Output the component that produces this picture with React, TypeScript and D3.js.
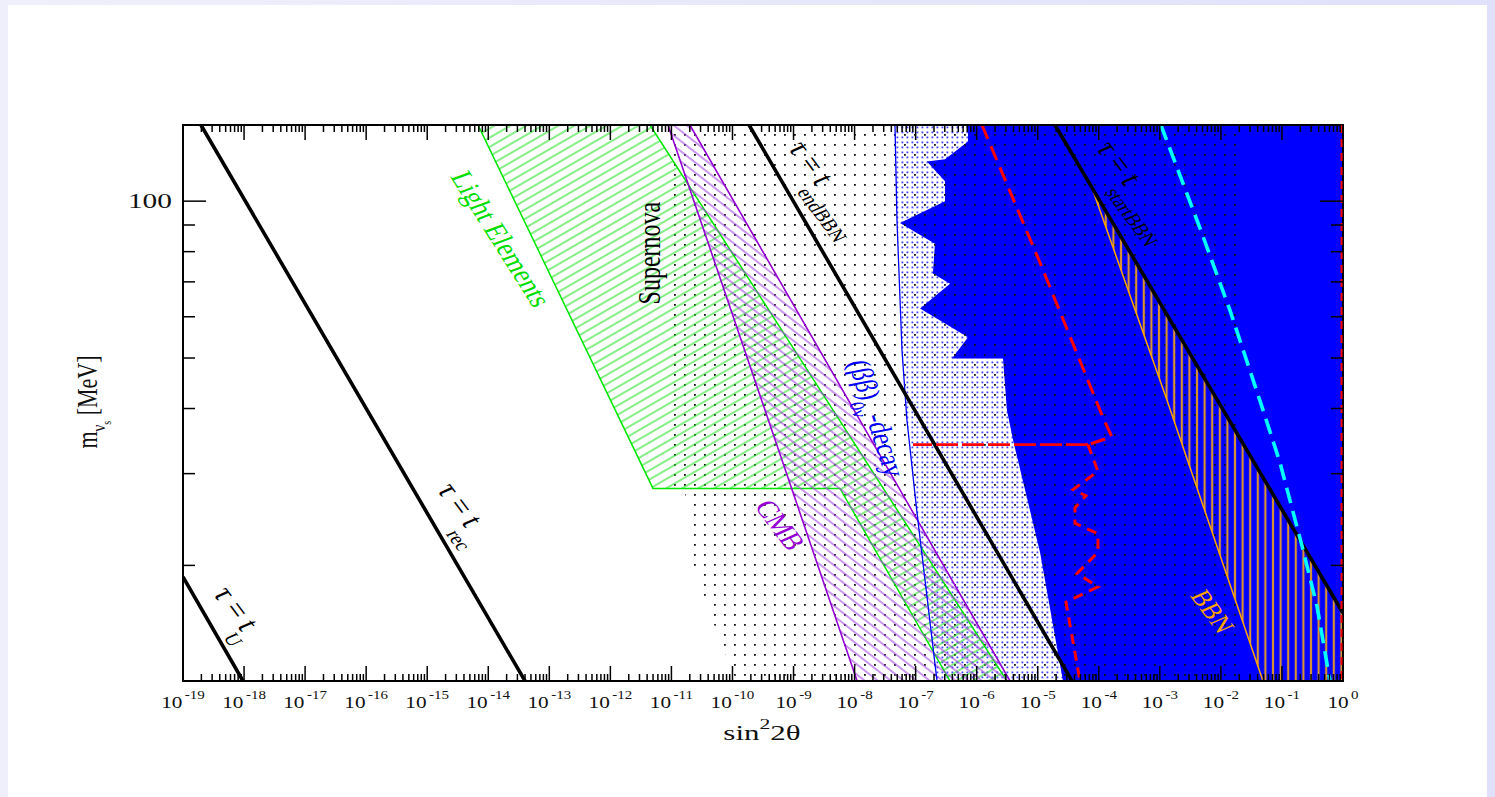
import React, { useEffect, useRef } from 'react';
import * as d3 from 'd3';

const W = 1495;
const H = 797;
const margin = { left: 183, right: 152, top: 125, bottom: 116 };

// x: sin^2(2θ), y: sterile neutrino mass in MeV
const xDomain = [1e-19, 1];
const yDomain = [12, 140];
const xTickPowers = [-19, -18, -17, -16, -15, -14, -13, -12, -11, -10, -9, -8, -7, -6, -5, -4, -3, -2, -1, 0];
const minorSteps = [2, 3, 4, 5, 6, 7, 8, 9];
const yMinorTicks = [20, 30, 40, 50, 60, 70, 80, 90];
const yMajorTicks = [100];

// lifetime lines tau = t_X, points are [sin^2 2θ, m]
const tauU = [[1e-19, 19.0], [9.6e-19, 12]];
const tauRec = [[1.97e-19, 140], [4.0e-14, 12]];
const tauEndBBN = [[1.87e-10, 140], [3.64e-5, 12]];
const tauStartBBN = [[1.92e-5, 140], [1, 16.2]];

// excluded / constrained regions
const lightElements = [[6.8e-15, 140], [4.46e-12, 140], [3.13e-6, 12], [3.66e-7, 12], [5.77e-9, 28.1], [4.99e-12, 28.1]];
const cmbBand = [[8.8e-12, 140], [2.01e-11, 140], [3.52e-6, 12], [1.1e-8, 12]];
const supernova = [[9.5e-12, 140], [1.84e-2, 140], [1.84e-2, 12], [1.1e-10, 12], [9.1e-11, 12.85], [3.83e-11, 16.7], [2.01e-11, 20.8], [1.67e-11, 27.7], [9.5e-12, 28.2]];
const doubleBetaEdge = [[4.59e-8, 140], [4.95e-8, 91.6], [5.98e-8, 51.7], [7.21e-8, 38.0], [1.05e-7, 25.3], [2.24e-7, 12]];
const blueEdge = [[7.21e-7, 140], [7.21e-7, 130.2], [3.03e-7, 120.3], [1.53e-7, 119.2], [3.03e-7, 109.2], [3.03e-7, 100], [5.55e-8, 90.8], [2.07e-7, 82.8], [1.92e-7, 72.6], [3.66e-7, 69.4], [1.18e-7, 62.2], [7.21e-7, 54.8], [3.94e-7, 49.9], [2.7e-6, 49.9], [3.13e-6, 39.7], [3.94e-6, 34.8], [1.09e-5, 21.2], [2.59e-5, 12]];
const bbnRegion = [[8.04e-5, 104.7], [1, 16.2], [1, 12], [4.89e-2, 12], [1.31e-3, 41.5]];

// dashed curves
const redUpper = [[1.22e-6, 140], [1.09e-5, 76.2], [1.22e-4, 38.0], [1.64e-4, 35.3], [1.13e-4, 34.8], [6.65e-5, 34.1]];
const redFlat = [[6.65e-5, 34.1], [9.06e-8, 34.1]];
const redLower = [[6.65e-5, 34.1], [9.7e-5, 30.3], [3.78e-5, 27.96], [6.17e-5, 27.2], [4.07e-5, 25.8], [4.07e-5, 24.1], [9.7e-5, 23.0], [9.7e-5, 21.2], [4.4e-5, 19.3], [9.7e-5, 18.2], [2.9e-5, 17.0], [4.92e-5, 12]];
const redEdge = [[1, 140], [1, 12]];
const cyanCurve = [[1.04e-3, 140], [4.54e-3, 88.8], [1.41e-2, 61.7], [4.71e-2, 40.3], [9.29e-2, 31.5], [0.213, 21.8], [0.375, 16.7], [0.612, 12]];

const serif = '"Liberation Serif", "Times New Roman", serif';
const STRETCH = 1.3;

// labels: anchor in data coords
const labels = [
  { at: [2.99e-19, 17.7], angle: 60, color: '#000', size: 26, anchor: 'start', parts: [['τ = t'], ['U', 17, -3, 15]] },
  { at: [1.39e-15, 28.0], angle: 60, color: '#000', size: 26, anchor: 'start', parts: [['τ = t'], ['rec', 17, -3, 16]] },
  { at: [7.8e-10, 126.8], angle: 60, color: '#000', size: 26, anchor: 'start', parts: [['τ = t'], ['endBBN', 17, -3, 16]] },
  { at: [8.67e-5, 126.8], angle: 60, color: '#000', size: 26, anchor: 'start', parts: [['τ = t'], ['startBBN', 17, -3, 16]] },
  { at: [1.62e-14, 84.6], angle: 64, color: '#00dd00', size: 24, anchor: 'middle', parts: [['Light Elements', 24, 0, 8]] },
  { at: [4.62e-12, 79.5], angle: -90, color: '#000', size: 24, anchor: 'middle', parts: [['Supernova', 24, 0, 7]] },
  { at: [6.0e-10, 23.9], angle: 60, color: '#9400d3', size: 24, anchor: 'middle', parts: [['CMB', 24, 0, 8]] },
  { at: [7.8e-9, 49.1], angle: 76, color: '#0000ff', size: 24, anchor: 'start', parts: [['(ββ)'], ['0ν', 16, 0, 9], ['-decay', 24, 0, -9]] },
  { at: [7.14e-3, 16.3], angle: 60, color: '#ffa500', size: 22, anchor: 'middle', parts: [['BBN', 22, 0, 7]] },
];

const App = () => {
  const svgRef = useRef<SVGSVGElement>(null);

  useEffect(() => {
    const svg = d3.select(svgRef.current);
    svg.selectAll('*').remove();

    const x = d3.scaleLog().domain(xDomain).range([margin.left, W - margin.right]);
    const y = d3.scaleLog().domain(yDomain).range([H - margin.bottom, margin.top]);
    const line = d3.line<number[]>().x(d => x(d[0])).y(d => y(d[1]));
    const x0 = x.range()[0], x1 = x.range()[1];
    const yTop = y.range()[1], yBot = y.range()[0];

    const defs = svg.append('defs');
    const grad = defs.append('linearGradient').attr('id', 'bg').attr('x1', 0).attr('x2', 1).attr('y1', 0).attr('y2', 0);
    grad.append('stop').attr('offset', 0).attr('stop-color', '#efeffb');
    grad.append('stop').attr('offset', 1).attr('stop-color', '#e0e0fa');

    defs.append('clipPath').attr('id', 'plotClip').append('rect')
      .attr('x', x0).attr('y', yTop).attr('width', x1 - x0).attr('height', yBot - yTop);

    // fill patterns
    const dotsBlack = defs.append('pattern').attr('id', 'dotsBlack').attr('patternUnits', 'userSpaceOnUse')
      .attr('width', 10).attr('height', 10);
    dotsBlack.append('rect').attr('x', 4).attr('y', 4).attr('width', 1.8).attr('height', 1.8).attr('fill', '#111');

    const dotsBlue = defs.append('pattern').attr('id', 'dotsBlue').attr('patternUnits', 'userSpaceOnUse')
      .attr('width', 5).attr('height', 5);
    dotsBlue.append('rect').attr('x', 1.5).attr('y', 1.5).attr('width', 1.8).attr('height', 1.8).attr('fill', '#4040ff');

    const hatchGreen = defs.append('pattern').attr('id', 'hatchGreen').attr('patternUnits', 'userSpaceOnUse')
      .attr('width', 10).attr('height', 8).attr('patternTransform', 'rotate(-30)');
    hatchGreen.append('line').attr('x1', 0).attr('x2', 10).attr('y1', 4).attr('y2', 4)
      .attr('stroke', '#22e022').attr('stroke-width', 1.1);

    const hatchPurple = defs.append('pattern').attr('id', 'hatchPurple').attr('patternUnits', 'userSpaceOnUse')
      .attr('width', 10).attr('height', 8).attr('patternTransform', 'rotate(38)');
    hatchPurple.append('line').attr('x1', 0).attr('x2', 10).attr('y1', 4).attr('y2', 4)
      .attr('stroke', '#a040e0').attr('stroke-width', 1.1);

    const hatchOrange = defs.append('pattern').attr('id', 'hatchOrange').attr('patternUnits', 'userSpaceOnUse')
      .attr('width', 7.6).attr('height', 10);
    hatchOrange.append('line').attr('x1', 3.8).attr('x2', 3.8).attr('y1', 0).attr('y2', 10)
      .attr('stroke', '#d9922e').attr('stroke-width', 2.2);

    // page background
    svg.append('rect').attr('width', W).attr('height', H).attr('fill', 'url(#bg)');
    svg.append('rect').attr('x', 8).attr('y', 5).attr('width', W - 16).attr('height', H - 5).attr('fill', '#fff');

    const plot = svg.append('g').attr('clip-path', 'url(#plotClip)');

    // (ββ)0ν region: from its edge to the right border
    const bbRegion = doubleBetaEdge.concat([[xDomain[1], yDomain[0]], [xDomain[1], yDomain[1]]]);
    plot.append('path').attr('d', line(bbRegion) + 'Z').attr('fill', 'url(#dotsBlue)');

    // solid blue excluded region
    const blueRegion = blueEdge.concat([[xDomain[1], yDomain[0]], [xDomain[1], yDomain[1]]]);
    plot.append('path').attr('d', line(blueRegion) + 'Z').attr('fill', '#0000ff');

    // supernova dots
    plot.append('path').attr('d', line(supernova) + 'Z').attr('fill', 'url(#dotsBlack)');

    // light elements
    plot.append('path').attr('d', line(lightElements) + 'Z')
      .attr('fill', 'url(#hatchGreen)').attr('stroke', '#00e600').attr('stroke-width', 1.5);

    // CMB
    plot.append('path').attr('d', line(cmbBand) + 'Z')
      .attr('fill', 'url(#hatchPurple)').attr('stroke', '#9400d3').attr('stroke-width', 1.6);

    // BBN
    plot.append('path').attr('d', line(bbnRegion) + 'Z')
      .attr('fill', 'url(#hatchOrange)').attr('stroke', '#ffa500').attr('stroke-width', 1.5);

    // (ββ) boundary
    plot.append('path').attr('d', line(doubleBetaEdge)).attr('fill', 'none')
      .attr('stroke', '#0000ff').attr('stroke-width', 1.3);

    // lifetime lines
    [tauU, tauRec, tauEndBBN, tauStartBBN].forEach(pts => {
      plot.append('path').attr('d', line(pts)).attr('fill', 'none')
        .attr('stroke', '#000').attr('stroke-width', 3.6);
    });

    // dashed curves
    plot.append('path').attr('d', line(redUpper)).attr('fill', 'none')
      .attr('stroke', '#ff0000').attr('stroke-width', 3).attr('stroke-dasharray', '15,8');
    plot.append('path').attr('d', line(redFlat)).attr('fill', 'none')
      .attr('stroke', '#ff0000').attr('stroke-width', 2.6).attr('stroke-dasharray', '22,4');
    plot.append('path').attr('d', line(redLower)).attr('fill', 'none')
      .attr('stroke', '#ff0000').attr('stroke-width', 3).attr('stroke-dasharray', '10,7');
    plot.append('path').attr('d', line(cyanCurve)).attr('fill', 'none')
      .attr('stroke', '#00ffff').attr('stroke-width', 3.6).attr('stroke-dasharray', '16,8');

    // frame
    svg.append('rect').attr('x', x0).attr('y', yTop).attr('width', x1 - x0).attr('height', yBot - yTop)
      .attr('fill', 'none').attr('stroke', '#000').attr('stroke-width', 2);

    svg.append('path').attr('d', line(redEdge)).attr('transform', 'translate(-1.5,0)')
      .attr('fill', 'none').attr('stroke', '#ff0000').attr('stroke-width', 2).attr('stroke-dasharray', '8,6');

    // ticks
    const ticks = svg.append('g').attr('stroke', '#000').attr('stroke-width', 1.5);
    const xMajor = xTickPowers.map(p => Math.pow(10, p));
    const xMinor: number[] = [];
    xTickPowers.slice(0, -1).forEach(p => minorSteps.forEach(k => xMinor.push(k * Math.pow(10, p))));

    const xTick = (v: number, len: number) => {
      ticks.append('line').attr('x1', x(v)).attr('x2', x(v)).attr('y1', yBot).attr('y2', yBot - len);
      ticks.append('line').attr('x1', x(v)).attr('x2', x(v)).attr('y1', yTop).attr('y2', yTop + len);
    };
    xMajor.forEach(v => xTick(v, 15));
    xMinor.forEach(v => xTick(v, 7));

    const yTick = (v: number, len: number) => {
      ticks.append('line').attr('x1', x0).attr('x2', x0 + len).attr('y1', y(v)).attr('y2', y(v));
      ticks.append('line').attr('x1', x1).attr('x2', x1 - len).attr('y1', y(v)).attr('y2', y(v));
    };
    yMajorTicks.forEach(v => yTick(v, 23));
    yMinorTicks.forEach(v => yTick(v, 12));

    // x tick labels 10^n
    xTickPowers.forEach(p => {
      const t = svg.append('text')
        .attr('transform', `translate(${x(Math.pow(10, p))},${yBot + 27}) scale(1.25,1)`)
        .attr('text-anchor', 'middle').attr('font-family', serif).attr('font-size', 17).attr('fill', '#111');
      t.append('tspan').text('10');
      t.append('tspan').attr('font-size', 12).attr('dx', 2).attr('dy', -9).text(String(p));
    });

    // y tick label
    yMajorTicks.forEach(v => {
      svg.append('text')
        .attr('transform', `translate(${x0 - 11},${y(v) + 7}) scale(1.4,1)`)
        .attr('text-anchor', 'end').attr('font-family', serif).attr('font-size', 21).attr('fill', '#111')
        .text(String(v));
    });

    // axis titles
    const xt = svg.append('text')
      .attr('transform', `translate(${(x0 + x1) / 2 - 1},${yBot + 59}) scale(1.55,1)`)
      .attr('text-anchor', 'middle').attr('font-family', serif).attr('font-size', 20).attr('fill', '#111');
    xt.append('tspan').text('sin');
    xt.append('tspan').attr('font-size', 14).attr('dy', -11).text('2');
    xt.append('tspan').attr('dy', 11).text('2θ');

    const yt = svg.append('text')
      .attr('transform', `translate(97,402) scale(1.3,1) rotate(-90)`)
      .attr('text-anchor', 'middle').attr('font-family', serif).attr('font-size', 22).attr('fill', '#111');
    yt.append('tspan').text('m');
    yt.append('tspan').attr('font-size', 15).attr('dy', 6).text('ν');
    yt.append('tspan').attr('font-size', 10).attr('dy', 5).text('s');
    yt.append('tspan').attr('font-size', 22).attr('dy', -11).text(' [MeV]');

    // region / line labels
    labels.forEach(l => {
      const t = svg.append('text')
        .attr('transform', `translate(${x(l.at[0])},${y(l.at[1])}) scale(${STRETCH},1) rotate(${l.angle})`)
        .attr('text-anchor', l.anchor).attr('font-family', serif).attr('font-size', l.size).attr('fill', l.color);
      l.parts.forEach((p: any[]) => {
        const ts = t.append('tspan').text(p[0]);
        if (p[1]) ts.attr('font-size', p[1]);
        if (p[2]) ts.attr('dx', p[2]);
        if (p[3]) ts.attr('dy', p[3]);
      });
    });
  }, []);

  return (
    <div style={{ position: 'fixed', left: 0, top: 0, width: W, height: H }}>
      <svg ref={svgRef} width={W} height={H} />
    </div>
  );
};

export default App;
